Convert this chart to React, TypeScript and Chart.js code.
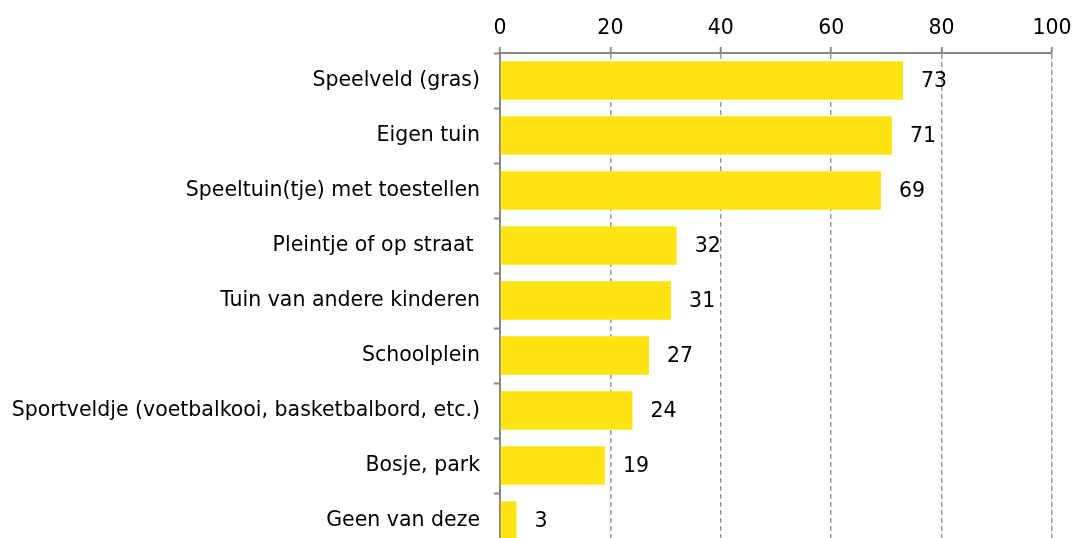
import React, { useEffect, useRef } from "react";
import { Chart, registerables } from "chart.js";

Chart.register(...registerables);

const categories = [
  "Speelveld (gras)",
  "Eigen tuin",
  "Speeltuin(tje) met toestellen",
  "Pleintje of op straat ",
  "Tuin van andere kinderen",
  "Schoolplein",
  "Sportveldje (voetbalkooi, basketbalbord, etc.)",
  "Bosje, park",
  "Geen van deze",
];
const values = [73, 71, 69, 32, 31, 27, 24, 19, 3];
const xMin = 0;
const xMax = 100;
const xStep = 20;

const FONT = "'DejaVu Sans', sans-serif";
const FONT_SIZE = 20.5;

const valueLabels = {
  id: "valueLabels",
  afterDatasetsDraw(chart: any) {
    const ctx = chart.ctx;
    const meta = chart.getDatasetMeta(0);
    ctx.save();
    ctx.fillStyle = "#000";
    ctx.font = `${FONT_SIZE}px ${FONT}`;
    ctx.textAlign = "left";
    ctx.textBaseline = "middle";
    meta.data.forEach((bar: any, i: number) => {
      ctx.fillText(String(values[i]), bar.x + 18, bar.y + 1);
    });
    ctx.restore();
  },
};

export default function App() {
  const ref = useRef<HTMLCanvasElement>(null);
  useEffect(() => {
    document.body.style.margin = "0";
    const chart = new Chart(ref.current!, {
      type: "bar",
      data: {
        labels: categories,
        datasets: [
          {
            data: values,
            backgroundColor: "#FFE312",
            borderWidth: 0,
            barPercentage: 0.7,
            categoryPercentage: 1,
          },
        ],
      },
      options: {
        indexAxis: "y",
        animation: false,
        responsive: false,
        maintainAspectRatio: false,
        layout: { padding: { left: 0, right: 23, top: 0, bottom: 0 } },
        plugins: { legend: { display: false }, tooltip: { enabled: false } },
        scales: {
          x: {
            position: "top",
            min: xMin,
            max: xMax,
            ticks: {
              stepSize: xStep,
              color: "#000",
              font: { family: FONT, size: FONT_SIZE },
              padding: 6,
            },
            grid: {
              color: "#999",
              lineWidth: 1.5,
              tickLength: 6,
              tickColor: "#888",
              tickWidth: 2,
              tickBorderDash: [],
            },
            border: { color: "#888", width: 2, dash: [5, 3] },
            afterFit: (s: any) => {
              s.height = 53;
              s.paddingLeft = 0;
              s.paddingRight = 0;
            },
          },
          y: {
            ticks: {
              color: "#000",
              font: { family: FONT, size: FONT_SIZE },
              padding: 14,
            },
            grid: {
              offset: true,
              drawOnChartArea: false,
              tickLength: 6,
              tickColor: "#888",
              tickWidth: 2,
              color: "#888",
            },
            border: { color: "#888", width: 2 },
            afterFit: (s: any) => {
              s.width = 500;
              s.paddingTop = 0;
              s.paddingBottom = 0;
            },
          },
        },
      },
      plugins: [valueLabels],
    });
    return () => chart.destroy();
  }, []);
  return (
    <div style={{ position: "absolute", left: 0, top: 0, width: 1075, height: 538, overflow: "hidden" }}>
      <canvas ref={ref} width={1075} height={548} style={{ display: "block" }} />
    </div>
  );
}
